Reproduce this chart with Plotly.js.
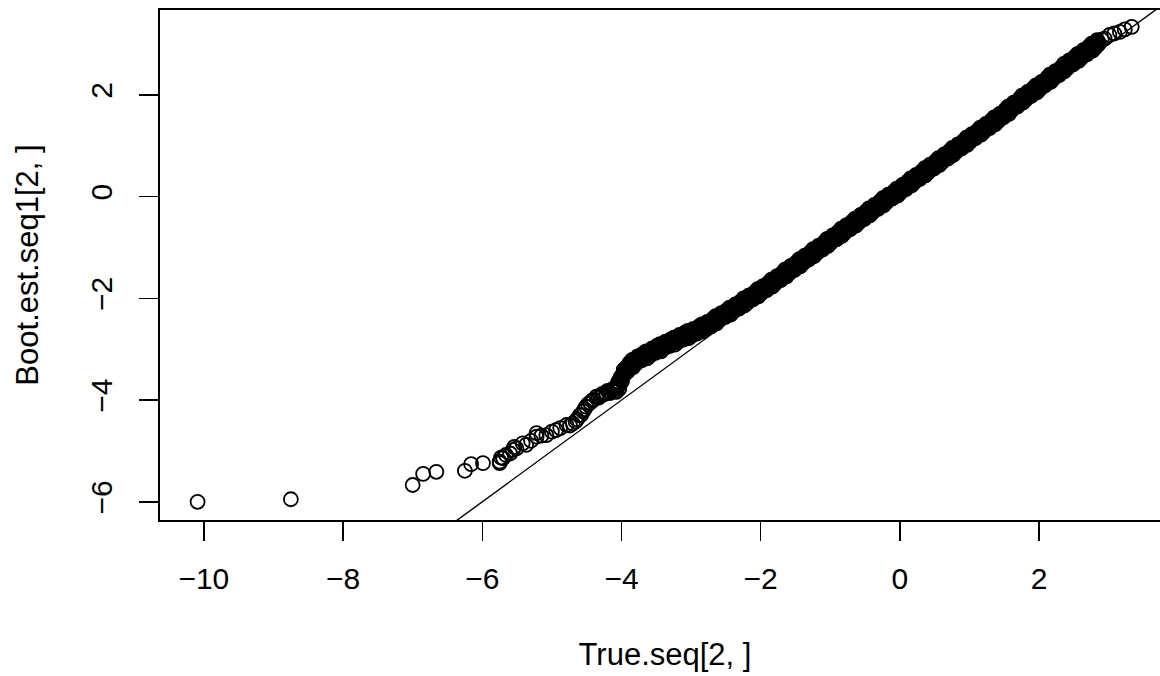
<!DOCTYPE html>
<html>
<head>
<meta charset="utf-8">
<script src="https://cdn.plot.ly/plotly-3.0.1.min.js"></script>
<style>
html, body { margin: 0; padding: 0; overflow: hidden; background: #fff; }
#chart { width: 1175px; height: 676px; }
</style>
</head>
<body>
<div id="chart"></div>
<script>
// Sparse lower tail
const tailX = [-10.09, -8.75, -7.00, -6.85, -6.66, -6.25, -6.16, -5.99, -5.75, -5.75, -5.73, -5.70, -5.66, -5.60, -5.56, -5.54, -5.51, -5.42, -5.37, -5.30, -5.22, -5.22, -5.15, -5.08, -5.00, -4.94, -4.88, -4.79, -4.74, -4.70, -4.66, -4.64, -4.60, -4.58, -4.55, -4.53, -4.51, -4.48, -4.45, -4.42, -4.40, -4.36, -4.33, -4.30, -4.28, -4.26, -4.22, -4.20, -4.18, -4.16, -4.14, -4.12, -4.07];
const tailY = [-6.00, -5.95, -5.67, -5.45, -5.41, -5.39, -5.26, -5.24, -5.24, -5.21, -5.13, -5.14, -5.08, -5.05, -4.98, -4.92, -4.95, -4.85, -4.88, -4.80, -4.72, -4.65, -4.70, -4.69, -4.62, -4.59, -4.55, -4.49, -4.50, -4.46, -4.42, -4.38, -4.30, -4.29, -4.22, -4.18, -4.13, -4.08, -4.05, -4.01, -3.99, -3.93, -3.95, -3.92, -3.88, -3.89, -3.87, -3.82, -3.84, -3.86, -3.80, -3.78, -3.74];

// Dense band, middle row (read along the band)
const bandX = [-4.10,-4.06,-4.02,-3.98,-3.94,-3.90,-3.86,-3.82,-3.78,-3.74,-3.70,-3.66,-3.62,-3.58,-3.54,-3.50,-3.46,-3.42,-3.38,-3.34,-3.30,-3.26,-3.22,-3.18,-3.14,-3.10,-3.06,-3.02,-2.98,-2.94,-2.90,-2.86,-2.82,-2.78,-2.74,-2.70,-2.66,-2.62,-2.58,-2.54,-2.50,-2.46,-2.42,-2.38,-2.34,-2.30,-2.26,-2.22,-2.18,-2.14,-2.10,-2.06,-2.02,-1.98,-1.94,-1.90,-1.86,-1.82,-1.78,-1.74,-1.70,-1.66,-1.62,-1.58,-1.54,-1.50,-1.46,-1.42,-1.38,-1.34,-1.30,-1.26,-1.22,-1.18,-1.14,-1.10,-1.06,-1.02,-0.98,-0.94,-0.90,-0.86,-0.82,-0.78,-0.74,-0.70,-0.66,-0.62,-0.58,-0.54,-0.50,-0.46,-0.42,-0.38,-0.34,-0.30,-0.26,-0.22,-0.18,-0.14,-0.10,-0.06,-0.02,0.02,0.06,0.10,0.14,0.18,0.22,0.26,0.30,0.34,0.38,0.42,0.46,0.50,0.54,0.58,0.62,0.66,0.70,0.74,0.78,0.82,0.86,0.90,0.94,0.98,1.02,1.06,1.10,1.14,1.18,1.22,1.26,1.30,1.34,1.38,1.42,1.46,1.50,1.54,1.58,1.62,1.66,1.70,1.74,1.78,1.82,1.86,1.90,1.94,1.98,2.02,2.06,2.10,2.14,2.18,2.22,2.26,2.30,2.34,2.38,2.42,2.46,2.50,2.54,2.58,2.62,2.66,2.70,2.74,2.78,2.82,2.86,2.90,2.94];
const bandY = [-3.79,-3.75,-3.59,-3.51,-3.38,-3.34,-3.31,-3.23,-3.24,-3.17,-3.18,-3.11,-3.10,-3.08,-3.00,-3.02,-2.98,-2.99,-2.91,-2.90,-2.88,-2.83,-2.85,-2.79,-2.80,-2.72,-2.73,-2.72,-2.65,-2.67,-2.61,-2.63,-2.55,-2.54,-2.52,-2.44,-2.46,-2.39,-2.40,-2.31,-2.30,-2.28,-2.20,-2.22,-2.15,-2.16,-2.07,-2.06,-2.03,-1.95,-1.97,-1.90,-1.90,-1.82,-1.80,-1.77,-1.69,-1.70,-1.63,-1.63,-1.54,-1.52,-1.49,-1.41,-1.42,-1.35,-1.35,-1.26,-1.24,-1.21,-1.13,-1.14,-1.07,-1.07,-0.98,-0.96,-0.93,-0.85,-0.86,-0.79,-0.79,-0.70,-0.68,-0.65,-0.57,-0.58,-0.51,-0.51,-0.42,-0.40,-0.37,-0.29,-0.30,-0.23,-0.23,-0.14,-0.12,-0.09,-0.01,-0.02,0.04,0.04,0.13,0.15,0.18,0.26,0.25,0.32,0.32,0.41,0.43,0.46,0.54,0.53,0.60,0.60,0.69,0.71,0.74,0.82,0.81,0.88,0.88,0.97,0.99,1.02,1.10,1.09,1.16,1.16,1.25,1.27,1.30,1.38,1.37,1.44,1.44,1.53,1.55,1.59,1.67,1.66,1.74,1.74,1.83,1.85,1.89,1.97,1.96,2.03,2.03,2.12,2.14,2.17,2.26,2.25,2.32,2.32,2.41,2.43,2.46,2.55,2.54,2.61,2.61,2.70,2.72,2.75,2.83,2.82,2.89,2.89,2.98,3.00,3.02,3.09,3.11];

// Dense band, upper edge
const bandUpX = [-4.087,-4.047,-4.007,-3.967,-3.927,-3.887,-3.847,-3.807,-3.767,-3.727,-3.687,-3.647,-3.607,-3.567,-3.527,-3.487,-3.447,-3.407,-3.367,-3.327,-3.287,-3.247,-3.207,-3.167,-3.127,-3.087,-3.047,-3.007,-2.967,-2.927,-2.887,-2.847,-2.807,-2.767,-2.727,-2.687,-2.647,-2.607,-2.567,-2.527,-2.487,-2.447,-2.407,-2.367,-2.327,-2.287,-2.247,-2.207,-2.167,-2.127,-2.087,-2.047,-2.007,-1.967,-1.927,-1.887,-1.847,-1.807,-1.767,-1.727,-1.687,-1.647,-1.607,-1.567,-1.527,-1.487,-1.447,-1.407,-1.367,-1.327,-1.287,-1.247,-1.207,-1.167,-1.127,-1.087,-1.047,-1.007,-0.967,-0.927,-0.887,-0.847,-0.807,-0.767,-0.727,-0.687,-0.647,-0.607,-0.567,-0.527,-0.487,-0.447,-0.407,-0.367,-0.327,-0.287,-0.247,-0.207,-0.167,-0.127,-0.087,-0.047,-0.007,0.033,0.073,0.113,0.153,0.193,0.233,0.273,0.313,0.353,0.393,0.433,0.473,0.513,0.553,0.593,0.633,0.673,0.713,0.753,0.793,0.833,0.873,0.913,0.953,0.993,1.033,1.073,1.113,1.153,1.193,1.233,1.273,1.313,1.353,1.393,1.433,1.473,1.513,1.553,1.593,1.633,1.673,1.713,1.753,1.793,1.833,1.873,1.913,1.953,1.993,2.033,2.073,2.113,2.153,2.193,2.233,2.273,2.313,2.353,2.393,2.433,2.473,2.513,2.553,2.593,2.633,2.673,2.713,2.753,2.793,2.833];
const bandUpY = [-3.75,-3.64,-3.54,-3.40,-3.35,-3.27,-3.21,-3.20,-3.14,-3.13,-3.08,-3.04,-3.04,-2.99,-2.98,-2.93,-2.90,-2.90,-2.85,-2.85,-2.80,-2.77,-2.77,-2.72,-2.72,-2.67,-2.64,-2.65,-2.60,-2.60,-2.55,-2.51,-2.51,-2.46,-2.46,-2.40,-2.35,-2.34,-2.29,-2.28,-2.23,-2.18,-2.17,-2.12,-2.11,-2.06,-2.00,-2.00,-1.94,-1.93,-1.88,-1.82,-1.81,-1.76,-1.75,-1.69,-1.63,-1.62,-1.56,-1.55,-1.49,-1.43,-1.42,-1.36,-1.35,-1.29,-1.23,-1.22,-1.16,-1.15,-1.09,-1.03,-1.02,-0.96,-0.95,-0.89,-0.83,-0.82,-0.76,-0.75,-0.69,-0.63,-0.62,-0.56,-0.55,-0.49,-0.43,-0.42,-0.36,-0.35,-0.29,-0.23,-0.22,-0.16,-0.15,-0.09,-0.03,-0.02,0.04,0.05,0.10,0.16,0.17,0.23,0.24,0.30,0.36,0.37,0.43,0.44,0.50,0.56,0.57,0.63,0.64,0.70,0.76,0.77,0.83,0.84,0.90,0.96,0.97,1.03,1.04,1.10,1.16,1.17,1.23,1.24,1.30,1.36,1.37,1.43,1.44,1.50,1.56,1.57,1.63,1.65,1.71,1.77,1.79,1.85,1.86,1.92,1.99,2.00,2.06,2.07,2.13,2.19,2.20,2.26,2.28,2.34,2.40,2.41,2.47,2.48,2.54,2.61,2.62,2.68,2.69,2.75,2.81,2.82,2.88,2.89,2.95,3.01,3.02,3.08];

// Dense band, lower edge
const bandLoX = [-4.073,-4.033,-3.993,-3.953,-3.913,-3.873,-3.833,-3.793,-3.753,-3.713,-3.673,-3.633,-3.593,-3.553,-3.513,-3.473,-3.433,-3.393,-3.353,-3.313,-3.273,-3.233,-3.193,-3.153,-3.113,-3.073,-3.033,-2.993,-2.953,-2.913,-2.873,-2.833,-2.793,-2.753,-2.713,-2.673,-2.633,-2.593,-2.553,-2.513,-2.473,-2.433,-2.393,-2.353,-2.313,-2.273,-2.233,-2.193,-2.153,-2.113,-2.073,-2.033,-1.993,-1.953,-1.913,-1.873,-1.833,-1.793,-1.753,-1.713,-1.673,-1.633,-1.593,-1.553,-1.513,-1.473,-1.433,-1.393,-1.353,-1.313,-1.273,-1.233,-1.193,-1.153,-1.113,-1.073,-1.033,-0.993,-0.953,-0.913,-0.873,-0.833,-0.793,-0.753,-0.713,-0.673,-0.633,-0.593,-0.553,-0.513,-0.473,-0.433,-0.393,-0.353,-0.313,-0.273,-0.233,-0.193,-0.153,-0.113,-0.073,-0.033,0.007,0.047,0.087,0.127,0.167,0.207,0.247,0.287,0.327,0.367,0.407,0.447,0.487,0.527,0.567,0.607,0.647,0.687,0.727,0.767,0.807,0.847,0.887,0.927,0.967,1.007,1.047,1.087,1.127,1.167,1.207,1.247,1.287,1.327,1.367,1.407,1.447,1.487,1.527,1.567,1.607,1.647,1.687,1.727,1.767,1.807,1.847,1.887,1.927,1.967,2.007,2.047,2.087,2.127,2.167,2.207,2.247,2.287,2.327,2.367,2.407,2.447,2.487,2.527,2.567,2.607,2.647,2.687,2.727,2.767,2.807,2.847];
const bandLoY = [-3.84,-3.78,-3.63,-3.49,-3.44,-3.36,-3.35,-3.29,-3.23,-3.22,-3.17,-3.18,-3.13,-3.08,-3.07,-3.02,-3.04,-2.99,-2.94,-2.94,-2.89,-2.91,-2.86,-2.81,-2.81,-2.76,-2.78,-2.74,-2.69,-2.69,-2.64,-2.65,-2.60,-2.55,-2.55,-2.49,-2.49,-2.43,-2.38,-2.37,-2.32,-2.32,-2.26,-2.21,-2.20,-2.15,-2.14,-2.09,-2.03,-2.02,-1.97,-1.96,-1.90,-1.85,-1.84,-1.78,-1.77,-1.71,-1.65,-1.64,-1.58,-1.57,-1.51,-1.45,-1.44,-1.38,-1.37,-1.31,-1.25,-1.24,-1.18,-1.17,-1.11,-1.05,-1.04,-0.98,-0.97,-0.91,-0.85,-0.84,-0.78,-0.77,-0.71,-0.65,-0.64,-0.58,-0.57,-0.51,-0.45,-0.44,-0.38,-0.37,-0.31,-0.25,-0.24,-0.18,-0.17,-0.11,-0.05,-0.04,0.01,0.02,0.08,0.14,0.15,0.21,0.22,0.28,0.34,0.35,0.41,0.42,0.48,0.54,0.55,0.61,0.62,0.68,0.74,0.75,0.81,0.82,0.88,0.94,0.95,1.01,1.02,1.08,1.14,1.15,1.21,1.22,1.28,1.34,1.35,1.41,1.42,1.48,1.54,1.56,1.62,1.63,1.70,1.76,1.77,1.83,1.85,1.91,1.97,1.98,2.04,2.05,2.11,2.17,2.19,2.25,2.26,2.32,2.38,2.39,2.45,2.47,2.53,2.59,2.60,2.66,2.67,2.73,2.79,2.80,2.86,2.87,2.93,2.99];

// Dense band, in-between rows
const bandAX = [-4.093,-4.053,-4.013,-3.973,-3.933,-3.893,-3.853,-3.813,-3.773,-3.733,-3.693,-3.653,-3.613,-3.573,-3.533,-3.493,-3.453,-3.413,-3.373,-3.333,-3.293,-3.253,-3.213,-3.173,-3.133,-3.093,-3.053,-3.013,-2.973,-2.933,-2.893,-2.853,-2.813,-2.773,-2.733,-2.693,-2.653,-2.613,-2.573,-2.533,-2.493,-2.453,-2.413,-2.373,-2.333,-2.293,-2.253,-2.213,-2.173,-2.133,-2.093,-2.053,-2.013,-1.973,-1.933,-1.893,-1.853,-1.813,-1.773,-1.733,-1.693,-1.653,-1.613,-1.573,-1.533,-1.493,-1.453,-1.413,-1.373,-1.333,-1.293,-1.253,-1.213,-1.173,-1.133,-1.093,-1.053,-1.013,-0.973,-0.933,-0.893,-0.853,-0.813,-0.773,-0.733,-0.693,-0.653,-0.613,-0.573,-0.533,-0.493,-0.453,-0.413,-0.373,-0.333,-0.293,-0.253,-0.213,-0.173,-0.133,-0.093,-0.053,-0.013,0.027,0.067,0.107,0.147,0.187,0.227,0.267,0.307,0.347,0.387,0.427,0.467,0.507,0.547,0.587,0.627,0.667,0.707,0.747,0.787,0.827,0.867,0.907,0.947,0.987,1.027,1.067,1.107,1.147,1.187,1.227,1.267,1.307,1.347,1.387,1.427,1.467,1.507,1.547,1.587,1.627,1.667,1.707,1.747,1.787,1.827,1.867,1.907,1.947,1.987,2.027,2.067,2.107,2.147,2.187,2.227,2.267,2.307,2.347,2.387,2.427,2.467,2.507,2.547,2.587,2.627,2.667,2.707,2.747,2.787,2.827];
const bandAY = [-3.78,-3.73,-3.57,-3.47,-3.41,-3.30,-3.30,-3.23,-3.21,-3.19,-3.11,-3.13,-3.07,-3.06,-3.04,-2.96,-2.99,-2.93,-2.92,-2.91,-2.83,-2.86,-2.80,-2.79,-2.78,-2.70,-2.73,-2.68,-2.67,-2.66,-2.58,-2.60,-2.54,-2.53,-2.52,-2.43,-2.44,-2.37,-2.36,-2.34,-2.26,-2.27,-2.20,-2.19,-2.17,-2.09,-2.09,-2.03,-2.01,-1.99,-1.91,-1.91,-1.84,-1.83,-1.81,-1.72,-1.72,-1.65,-1.63,-1.61,-1.52,-1.52,-1.45,-1.43,-1.41,-1.32,-1.32,-1.25,-1.23,-1.21,-1.12,-1.12,-1.05,-1.03,-1.01,-0.92,-0.92,-0.85,-0.83,-0.81,-0.72,-0.72,-0.65,-0.63,-0.61,-0.52,-0.52,-0.45,-0.43,-0.41,-0.32,-0.32,-0.25,-0.23,-0.21,-0.12,-0.12,-0.05,-0.03,-0.01,0.07,0.07,0.14,0.16,0.18,0.27,0.27,0.34,0.36,0.38,0.47,0.47,0.54,0.56,0.58,0.67,0.67,0.74,0.76,0.78,0.87,0.87,0.94,0.96,0.98,1.07,1.07,1.14,1.16,1.18,1.27,1.27,1.34,1.36,1.38,1.47,1.47,1.54,1.56,1.59,1.68,1.68,1.76,1.78,1.80,1.89,1.90,1.97,1.99,2.01,2.10,2.10,2.17,2.19,2.22,2.31,2.31,2.38,2.40,2.42,2.51,2.52,2.59,2.61,2.63,2.72,2.72,2.79,2.81,2.83,2.92,2.92,2.99,3.01];
const bandBX = [-4.08,-4.04,-4.00,-3.96,-3.92,-3.88,-3.84,-3.80,-3.76,-3.72,-3.68,-3.64,-3.60,-3.56,-3.52,-3.48,-3.44,-3.40,-3.36,-3.32,-3.28,-3.24,-3.20,-3.16,-3.12,-3.08,-3.04,-3.00,-2.96,-2.92,-2.88,-2.84,-2.80,-2.76,-2.72,-2.68,-2.64,-2.60,-2.56,-2.52,-2.48,-2.44,-2.40,-2.36,-2.32,-2.28,-2.24,-2.20,-2.16,-2.12,-2.08,-2.04,-2.00,-1.96,-1.92,-1.88,-1.84,-1.80,-1.76,-1.72,-1.68,-1.64,-1.60,-1.56,-1.52,-1.48,-1.44,-1.40,-1.36,-1.32,-1.28,-1.24,-1.20,-1.16,-1.12,-1.08,-1.04,-1.00,-0.96,-0.92,-0.88,-0.84,-0.80,-0.76,-0.72,-0.68,-0.64,-0.60,-0.56,-0.52,-0.48,-0.44,-0.40,-0.36,-0.32,-0.28,-0.24,-0.20,-0.16,-0.12,-0.08,-0.04,0.00,0.04,0.08,0.12,0.16,0.20,0.24,0.28,0.32,0.36,0.40,0.44,0.48,0.52,0.56,0.60,0.64,0.68,0.72,0.76,0.80,0.84,0.88,0.92,0.96,1.00,1.04,1.08,1.12,1.16,1.20,1.24,1.28,1.32,1.36,1.40,1.44,1.48,1.52,1.56,1.60,1.64,1.68,1.72,1.76,1.80,1.84,1.88,1.92,1.96,2.00,2.04,2.08,2.12,2.16,2.20,2.24,2.28,2.32,2.36,2.40,2.44,2.48,2.52,2.56,2.60,2.64,2.68,2.72,2.76,2.80,2.84];
const bandBY = [-3.83,-3.70,-3.59,-3.43,-3.38,-3.35,-3.27,-3.25,-3.17,-3.16,-3.16,-3.10,-3.09,-3.02,-3.01,-3.01,-2.96,-2.95,-2.88,-2.88,-2.88,-2.83,-2.82,-2.75,-2.75,-2.75,-2.70,-2.70,-2.63,-2.63,-2.63,-2.57,-2.56,-2.49,-2.49,-2.48,-2.41,-2.39,-2.32,-2.31,-2.31,-2.24,-2.22,-2.15,-2.14,-2.14,-2.06,-2.05,-1.97,-1.96,-1.96,-1.88,-1.86,-1.79,-1.78,-1.77,-1.69,-1.67,-1.59,-1.58,-1.57,-1.49,-1.47,-1.39,-1.38,-1.37,-1.29,-1.27,-1.19,-1.18,-1.17,-1.09,-1.07,-0.99,-0.98,-0.97,-0.89,-0.87,-0.79,-0.78,-0.77,-0.69,-0.67,-0.59,-0.58,-0.57,-0.49,-0.47,-0.39,-0.38,-0.37,-0.29,-0.27,-0.19,-0.18,-0.17,-0.09,-0.07,0.01,0.02,0.02,0.10,0.12,0.20,0.21,0.22,0.30,0.32,0.40,0.41,0.42,0.50,0.52,0.60,0.61,0.62,0.70,0.72,0.80,0.81,0.82,0.90,0.92,1.00,1.01,1.02,1.10,1.12,1.20,1.21,1.22,1.30,1.32,1.40,1.41,1.42,1.50,1.52,1.60,1.62,1.63,1.71,1.74,1.82,1.83,1.84,1.93,1.95,2.03,2.04,2.05,2.13,2.15,2.23,2.25,2.26,2.34,2.36,2.44,2.45,2.46,2.55,2.57,2.65,2.66,2.67,2.75,2.77,2.85,2.86,2.87,2.95,2.97,3.05];

// Upper end points
const topX = [3.01, 3.08, 3.16, 3.23, 3.33];
const topY = [3.18, 3.21, 3.24, 3.29, 3.34];

// Reference line (abline): intercept and slope
const ablineA = 0;
const ablineB = 1;
const ablineX = [-12, 5];

// Axis ticks and labels
const xTicks = [-10, -8, -6, -4, -2, 0, 2];
const yTicks = [-6, -4, -2, 0, 2];
const xLabel = "True.seq[2, ]";
const yLabel = "Boot.est.seq1[2, ]";

const allX = tailX.concat(bandX, bandUpX, bandLoX, bandAX, bandBX, topX);
const allY = tailY.concat(bandY, bandUpY, bandLoY, bandAY, bandBY, topY);
const ablineY = ablineX.map(v => ablineA + ablineB * v);

const family = "Liberation Sans, Arial, Helvetica, sans-serif";
const tickFont = {family: family, size: 30, color: "#000"};
const titleFont = {family: family, size: 31, color: "#000"};
const fmt = v => v < 0 ? "\u2212" + Math.abs(v) : String(v);

const traces = [
  {
    type: "scatter", mode: "markers", x: allX, y: allY,
    marker: {symbol: "circle-open", size: 14, color: "#000", line: {width: 1.8, color: "#000"}},
    hoverinfo: "x+y", showlegend: false
  },
  {
    type: "scatter", mode: "lines", x: ablineX, y: ablineY,
    line: {color: "#000", width: 1.4}, hoverinfo: "skip", showlegend: false
  }
];

const layout = {
  width: 1175, height: 676,
  margin: {l: 160, r: 5, t: 10, b: 156, pad: 0},
  paper_bgcolor: "#fff", plot_bgcolor: "#fff",
  font: tickFont,
  showlegend: false,
  xaxis: {
    range: [-10.63, 3.88], autorange: false,
    tickvals: xTicks, ticktext: xTicks.map(fmt),
    ticks: "outside", ticklen: 19, tickwidth: 1.5, tickcolor: "#000",
    showline: true, linecolor: "#000", linewidth: 1.6, mirror: true,
    showgrid: false, zeroline: false,
    tickfont: tickFont, ticklabelstandoff: 12,
    title: {text: xLabel, font: titleFont, standoff: 50},
    automargin: false
  },
  yaxis: {
    range: [-6.358, 3.672], autorange: false,
    tickvals: yTicks, ticktext: yTicks.map(fmt),
    tickangle: -90,
    ticks: "outside", ticklen: 19, tickwidth: 1.5, tickcolor: "#000",
    showline: true, linecolor: "#000", linewidth: 1.6, mirror: true,
    showgrid: false, zeroline: false,
    tickfont: tickFont, ticklabelstandoff: 15,
    title: {text: yLabel, font: titleFont, standoff: 37},
    automargin: false
  }
};

Plotly.newPlot("chart", traces, layout, {displayModeBar: false, staticPlot: true});
</script>
</body>
</html>
